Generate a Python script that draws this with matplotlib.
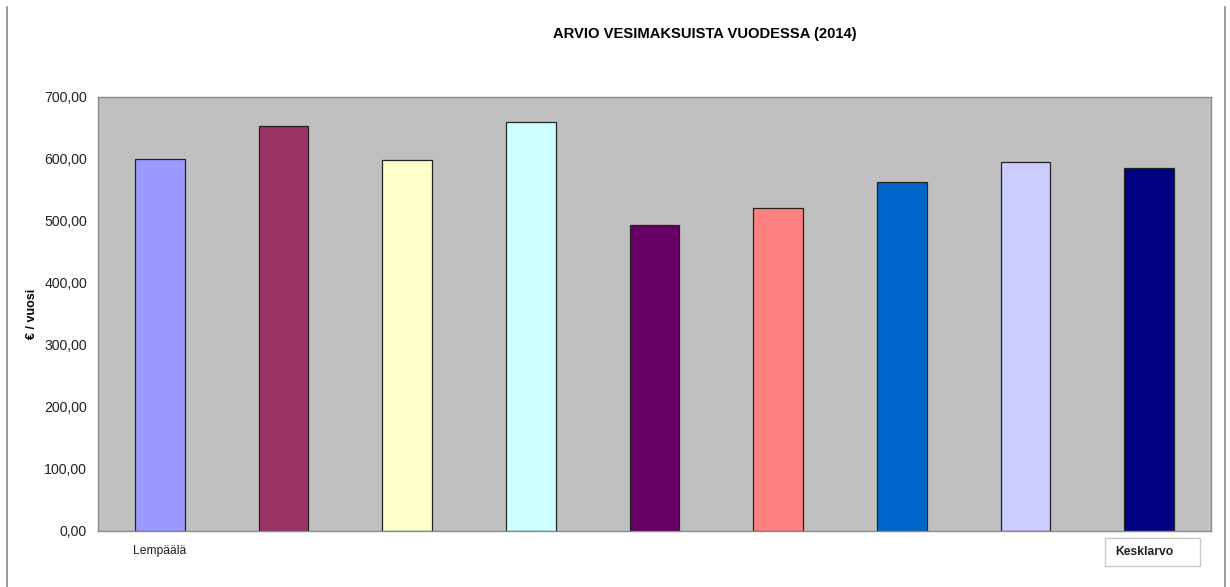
import matplotlib

matplotlib.use("Agg")
import matplotlib.pyplot as plt
from matplotlib.lines import Line2D
from matplotlib.patches import Rectangle

categories = ["Lempäälä", "", "", "", "", "", "", "", "Kesklarvo"]
values = [600, 653, 598, 660, 494, 521, 563, 595, 585]
colors = ["#9999FF", "#993366", "#FFFFCC", "#CCFFFF", "#660066",
          "#FF8080", "#0066CC", "#CCCCFF", "#000080"]
yticks = [0, 100, 200, 300, 400, 500, 600, 700]

plt.rcParams["font.family"] = ["Liberation Sans", "DejaVu Sans"]

W, H = 1230, 587
fig = plt.figure(figsize=(W / 100, H / 100), dpi=100)
fig.patch.set_facecolor("white")
ax = fig.add_axes([98 / W, (H - 531) / H, (1211 - 98) / W, (531 - 97) / H])
ax.set_facecolor("#C0C0C0")

x = list(range(len(values)))
ax.bar(x, values, width=0.40, color=colors, edgecolor="#222222", linewidth=0.9, zorder=2)

ax.set_xlim(-0.5, len(values) - 0.5)
ax.set_ylim(0, 700)
ax.set_yticks(yticks)
ax.set_yticklabels([f"{v:.2f}".replace(".", ",") for v in yticks], fontsize=10.2, color="#222222")
ax.set_xticks(x)
# last category label is drawn separately, inside its box
ax.set_xticklabels(categories[:-1] + [""], fontsize=8.7, color="#222222")
ax.tick_params(axis="both", length=0)
ax.tick_params(axis="y", pad=8)
ax.tick_params(axis="x", pad=10)

ax.annotate(categories[-1], xy=(x[-1], 0), xycoords=("data", "axes fraction"),
            xytext=(-3.6, -15), textcoords="offset points",
            ha="center", va="center", fontsize=8.7, fontweight="bold",
            color="#222222", annotation_clip=False)

for s in ax.spines.values():
    s.set_color("#8A8A8A")
    s.set_linewidth(1.0)

ax.set_ylabel("€ / vuosi", fontsize=9, fontweight="bold", labelpad=4)
fig.text(705 / W, 1 - 34 / H, "ARVIO VESIMAKSUISTA VUODESSA (2014)",
         ha="center", va="center", fontsize=10.6, fontweight="bold")

# box around the last category label
fig.add_artist(Rectangle((1105 / W, (H - 566) / H), 95 / W, 28 / H,
                         transform=fig.transFigure, facecolor="none",
                         edgecolor="#C8C8C8", linewidth=1.0, zorder=0))

# outer chart frame lines (left and right)
for xp in (6.5, 1224.5):
    fig.add_artist(Line2D([xp / W, xp / W], [0, 1 - 7 / H], transform=fig.transFigure,
                          color="#888888", linewidth=1.2))

fig.savefig("out.png", dpi=100, facecolor="white")
